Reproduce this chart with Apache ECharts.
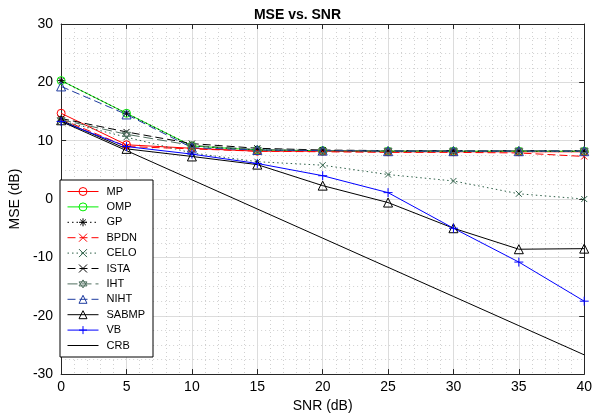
<!DOCTYPE html>
<html><head><meta charset="utf-8">
<script src="https://cdn.jsdelivr.net/npm/echarts@6/dist/echarts.min.js"></script>
<style>html,body{margin:0;padding:0;background:#fff}#c{width:595px;height:418px}</style>
</head><body><div id="c"></div>
<script>
const snr = [0, 5, 10, 15, 20, 25, 30, 35, 40];
const xTicks = [0, 5, 10, 15, 20, 25, 30, 35, 40];
const yTicks = [-30, -20, -10, 0, 10, 20, 30];
const seriesNames = ['MP','OMP','GP','BPDN','CELO','ISTA','IHT','NIHT','SABMP','VB','CRB'];
const mp    = [14.7, 9.3, 8.7, 8.2, 8.2, 8.1, 8.1, 8.1, 8.1];
const omp   = [20.3, 14.7, 9.1, 8.4, 8.3, 8.2, 8.2, 8.2, 8.2];
const gp    = [20.3, 14.7, 9.1, 8.4, 8.3, 8.2, 8.2, 8.2, 8.2];
const bpdn  = [13.7, 9.0, 8.6, 8.2, 8.1, 8.0, 8.0, 7.9, 7.3];
const celo  = [13.4, 10.6, 7.9, 6.4, 5.8, 4.2, 3.1, 0.9, 0.0];
const ista  = [13.8, 11.5, 9.5, 8.7, 8.4, 8.3, 8.3, 8.3, 8.3];
const iht   = [13.6, 11.1, 9.2, 8.5, 8.3, 8.3, 8.3, 8.3, 8.3];
const niht  = [19.3, 14.5, 8.8, 8.4, 8.3, 8.2, 8.2, 8.2, 8.2];
const sabmp = [13.5, 8.6, 7.3, 5.9, 2.3, -0.6, -5.0, -8.6, -8.5];
const vb    = [13.3, 9.0, 7.7, 6.1, 4.0, 1.1, -5.0, -10.8, -17.5];
const crb   = [13.3, 8.3, 3.3, -1.7, -6.7, -11.7, -16.7, -21.7, -26.7];

const X = 'path://M0,0L10,10M10,0L0,10';
const PLUS = 'path://M5,0L5,10M0,5L10,5';
const STAR = 'path://M5,0L5,10M0,5L10,5M1.5,1.5L8.5,8.5M8.5,1.5L1.5,8.5';
const HEX = 'path://M5,0L9.33,7.5L0.67,7.5ZM5,10L0.67,2.5L9.33,2.5Z';
const CIRC = 'path://M0,5A5,5,0,1,1,10,5A5,5,0,1,1,0,5Z';
const TRI = 'path://M5,0L10,9L0,9Z';

function pts(arr){ return snr.map((s,i)=>[s, arr[i]]); }
function mk(name, data, color, lineType, symbol, size){
  return {
    name, type:'line', data: pts(data), xAxisIndex:0, yAxisIndex:0,
    symbol, symbolSize: size, showSymbol: size > 0,
    lineStyle:{color, width:1, type: lineType},
    itemStyle:{color:'rgba(255,255,255,0)', borderColor:color, borderWidth:1},
    emphasis:{disabled:true}, animation:false, z: 3
  };
}
const series = [
  mk('MP', mp, '#ff0000', 'solid', CIRC, 8),
  mk('OMP', omp, '#00ee00', 'solid', CIRC, 8),
  mk('GP', gp, '#000000', [1.5,3], STAR, 7),
  mk('BPDN', bpdn, '#ff0000', [8,4], X, 6),
  mk('CELO', celo, '#2e6048', [1.5,3], X, 6),
  mk('ISTA', ista, '#000000', [8,4], X, 6),
  mk('IHT', iht, '#4f6f5f', [10,4], HEX, 8),
  mk('NIHT', niht, '#1f3ca0', [8,4], TRI, 9),
  mk('SABMP', sabmp, '#000000', 'solid', TRI, 9),
  mk('VB', vb, '#0000ff', 'solid', PLUS, 9),
  mk('CRB', crb, '#000000', 'solid', CIRC, 0)
];

const legendData = seriesNames.map(n => n === 'CRB'
  ? {name:n, itemStyle:{opacity:0}, lineStyle:{width:1, opacity:1}}
  : {name:n});

const font = 'Liberation Sans, Arial, sans-serif';
const chart = echarts.init(document.getElementById('c'), null, {renderer:'canvas'});
chart.setOption({
  animation:false,
  backgroundColor:'#fff',
  title:{text:'MSE vs. SNR', left:'center', top:3, textStyle:{fontFamily:font, fontSize:14, fontWeight:'bold', color:'#000'}},
  grid:{left:58, right:5, top:24, bottom:43},
  legend:{
    data: legendData, orient:'vertical', left:60, top:180,
    backgroundColor:'#fff', borderColor:'#000', borderWidth:1, borderRadius:0,
    padding:[6,8,6,7], itemGap:4.4, itemWidth:31, itemHeight:10,
    lineStyle:{width:1},
    itemStyle:{borderWidth:1},
    textStyle:{fontFamily:font, fontSize:11, color:'#000', padding:[0,0,0,3]},
    selectedMode:false
  },
  xAxis:[{
    type:'value', min:0, max:40, interval:5, position:'bottom',
    name:'SNR (dB)', nameLocation:'middle', nameGap:22,
    nameTextStyle:{fontFamily:font, fontSize:14, color:'#000'},
    axisLine:{show:true, onZero:false, lineStyle:{color:'#262626', width:1}},
    axisTick:{show:true, inside:true, length:5, lineStyle:{color:'#262626'}},
    minorTick:{show:false, splitNumber:5},
    axisLabel:{fontFamily:font, fontSize:14, color:'#000', margin:6, customValues: xTicks},
    splitLine:{show:true, lineStyle:{color:'#dcdcdc', width:1}},
    minorSplitLine:{show:true, lineStyle:{color:'#d0d0d0', width:1, type:[1,3]}}
  },{
    type:'value', min:0, max:40, interval:5, position:'top',
    axisLine:{show:true, onZero:false, lineStyle:{color:'#262626', width:1}},
    axisTick:{show:true, inside:true, length:5, lineStyle:{color:'#262626'}},
    axisLabel:{show:false}, splitLine:{show:false}
  }],
  yAxis:[{
    type:'value', min:-30, max:30, interval:10, position:'left',
    name:'MSE (dB)', nameLocation:'middle', nameGap:30, nameRotate:90,
    nameTextStyle:{fontFamily:font, fontSize:14, color:'#000'},
    axisLine:{show:true, onZero:false, lineStyle:{color:'#262626', width:1}},
    axisTick:{show:true, inside:true, length:5, lineStyle:{color:'#262626'}},
    minorTick:{show:false, splitNumber:4},
    axisLabel:{fontFamily:font, fontSize:14, color:'#000', margin:8, customValues: yTicks},
    splitLine:{show:true, lineStyle:{color:'#dcdcdc', width:1}},
    minorSplitLine:{show:true, lineStyle:{color:'#d0d0d0', width:1, type:[1,3]}}
  },{
    type:'value', min:-30, max:30, interval:10, position:'right',
    axisLine:{show:true, onZero:false, lineStyle:{color:'#262626', width:1}},
    axisTick:{show:true, inside:true, length:5, lineStyle:{color:'#262626'}},
    axisLabel:{show:false}, splitLine:{show:false}
  }],
  series
});
</script></body></html>
